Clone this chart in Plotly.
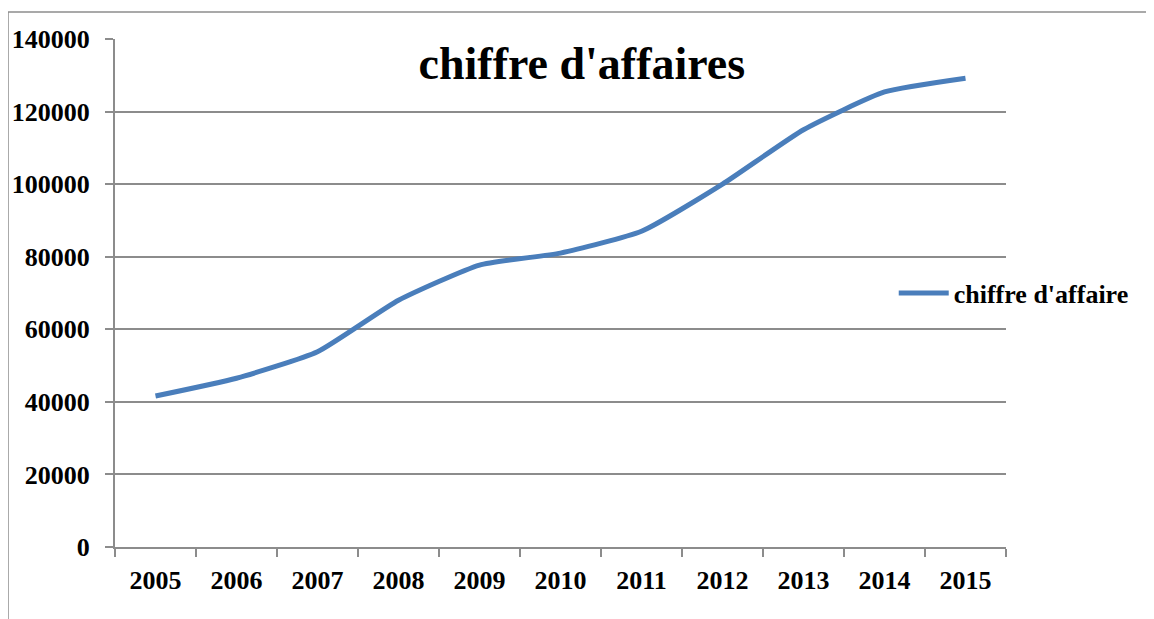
# Chiffre d'affaires 2005-2015
# ----------------------------------------------------------------------------------------------------------------------
import plotly.graph_objects as go

# ----------------------------------------------------------------------------------------------------------------------
# Data
# ----------------------------------------------------------------------------------------------------------------------
annees = ['2005', '2006', '2007', '2008', '2009', '2010', '2011', '2012', '2013', '2014', '2015']
chiffre_affaire = [41600, 46500, 53800, 68000, 77700, 81000, 87000, 100000, 115000, 125400, 129200]
y_ticks = [0, 20000, 40000, 60000, 80000, 100000, 120000, 140000]

# Colors / fonts
line_color = '#4A7EBB'
grid_color = '#8C8C8C'
font_family = 'Liberation Serif, Times New Roman, serif'

fig = go.Figure()

fig.add_trace(go.Scatter(x=annees, y=chiffre_affaire, name="chiffre d'affaire",
                         mode='lines', line=dict(color=line_color, width=5, shape='spline', smoothing=0.5)))

# Title and layout (page body adds an 8px offset, compensated in size / margins)
fig.update_layout(
    width=1146, height=611,
    margin=dict(l=107, r=148, t=31, b=72),
    paper_bgcolor='white', plot_bgcolor='white',
    font=dict(family=font_family, color='black', size=26, weight='bold'),
    title=dict(text="<b>chiffre d'affaires</b>", font=dict(size=46, family=font_family, color='black'),
               xref='paper', x=0.524, xanchor='center', yref='container', y=0.91, yanchor='middle'),
    legend=dict(x=0.874, y=0.5, xanchor='left', yanchor='middle', bgcolor='rgba(0,0,0,0)',
                font=dict(size=26, family=font_family, weight='bold'), itemwidth=50),
    showlegend=True,
)

# Axes
fig.update_xaxes(type='category', range=[-0.5, len(annees) - 0.5], tickson='boundaries',
                 ticks='outside', ticklen=8, tickcolor=grid_color, tickwidth=2,
                 showline=True, linecolor=grid_color, linewidth=2, showgrid=False,
                 automargin=False, ticklabelstandoff=9,
                 tickfont=dict(size=26, family=font_family, weight='bold'))
fig.update_yaxes(range=[0, 140000], tickvals=y_ticks, ticktext=[str(v) for v in y_ticks],
                 ticks='outside', ticklen=8, tickcolor=grid_color, tickwidth=2,
                 showline=True, linecolor=grid_color, linewidth=2,
                 showgrid=True, gridcolor=grid_color, gridwidth=2, zeroline=False,
                 automargin=False, ticklabelstandoff=10,
                 tickfont=dict(size=26, family=font_family, weight='bold'))

# Chart border (left and top edges visible)
fig.add_shape(type='line', xref='paper', yref='paper', x0=-0.1201, x1=1.2, y0=1.0531, y1=1.0531,
              line=dict(color=grid_color, width=1.5))
fig.add_shape(type='line', xref='paper', yref='paper', x0=-0.1201, x1=-0.1201, y0=-0.2, y1=1.0531,
              line=dict(color=grid_color, width=1.5))

fig.write_html("out.html")
